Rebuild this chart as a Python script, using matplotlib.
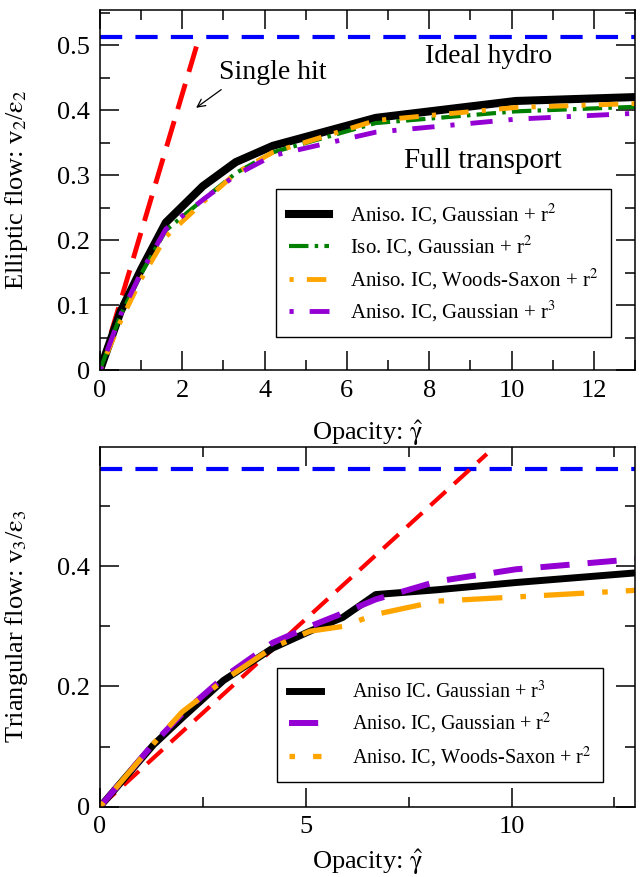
import numpy as np
import matplotlib
matplotlib.use('Agg')
import matplotlib.pyplot as plt
from matplotlib.ticker import MultipleLocator, FuncFormatter

plt.rcParams['font.family'] = ['Liberation Serif', 'DejaVu Serif']
plt.rcParams['mathtext.fontset'] = 'stix'
plt.rcParams['mathtext.default'] = 'rm'
plt.rcParams['lines.scale_dashes'] = False

# ---- top panel: v2/eps2 vs opacity
x2 = [0, 0.5, 1.0, 1.6, 2.5, 3.3, 4.2, 6.7, 10.1, 13]
v2_aniso_gauss_r2 = [0, 0.09, 0.155, 0.227, 0.283, 0.32, 0.345, 0.388, 0.414, 0.42]
v2_iso_gauss_r2 = [0, 0.085, 0.148, 0.215, 0.262, 0.303, 0.335, 0.38, 0.398, 0.405]
v2_aniso_ws_r2 = [0, 0.075, 0.14, 0.205, 0.258, 0.303, 0.335, 0.384, 0.404, 0.41]
v2_aniso_gauss_r3 = [0, 0.085, 0.15, 0.217, 0.262, 0.3, 0.33, 0.366, 0.386, 0.395]
hydro_v2 = 0.512
single_hit_x2 = [0, 2.4]
single_hit_v2 = [0, 0.51]

# ---- bottom panel: v3/eps3 vs opacity
x3 = [0, 1.3, 2.0, 3.0, 4.2, 5.1, 5.9, 6.7, 8.2, 10.1, 13]
v3_aniso_gauss_r3 = [0, 0.103, 0.148, 0.21, 0.264, 0.292, 0.315, 0.353, 0.361, 0.373, 0.389]
v3_aniso_gauss_r2 = [0, 0.105, 0.155, 0.215, 0.273, 0.30, 0.322, 0.345, 0.375, 0.395, 0.412]
v3_aniso_ws_r2 = [0, 0.105, 0.158, 0.21, 0.265, 0.292, 0.30, 0.32, 0.342, 0.349, 0.36]
hydro_v3 = 0.562
single_hit_x3 = [0, 9.4]
single_hit_v3 = [0, 0.587]

fig = plt.figure(figsize=(6.42, 8.77), dpi=100)
ax1 = fig.add_axes([0.1558, 0.5781, 0.8333, 0.4105])
ax2 = fig.add_axes([0.1558, 0.0802, 0.8333, 0.4104])

fmt = FuncFormatter(lambda v, p: '%g' % round(v, 3))
xlab = r'Opacity: $\hat{\gamma}$'


def style_axes(ax):
    ax.tick_params(which='both', direction='in', top=True, right=True,
                   width=1.1, labelsize=19)
    ax.tick_params(which='major', length=14, pad=7)
    ax.tick_params(which='minor', length=7)
    for s in ax.spines.values():
        s.set_linewidth(1.1)
    ax.yaxis.set_major_formatter(fmt)
    ax.xaxis.set_major_formatter(fmt)


# top
ax1.plot([0, 13], [hydro_v2, hydro_v2], color='blue', lw=3, dashes=(16, 9.5))
ax1.plot(single_hit_x2, single_hit_v2, color='red', lw=3.5, dashes=(19, 9))
ax1.plot(x2, v2_aniso_gauss_r2, color='black', lw=5.8, label=r'Aniso. IC, Gaussian + r$^2$')
ax1.plot(x2, v2_iso_gauss_r2, color='green', lw=3, dashes=(14, 4.5, 2.5, 4.5),
         label=r'Iso. IC, Gaussian + r$^2$')
ax1.plot(x2, v2_aniso_ws_r2, color='orange', lw=3.5, dashes=(3, 9.5, 14, 9.5),
         label=r'Aniso. IC, Woods-Saxon + r$^2$')
ax1.plot(x2, v2_aniso_gauss_r3, color='darkviolet', lw=3.5, dashes=(3, 11.5, 16, 11.5),
         label=r'Aniso. IC, Gaussian + r$^3$')
ax1.set_xlim(0, 13)
ax1.set_ylim(0, 0.554)
ax1.xaxis.set_major_locator(MultipleLocator(2))
ax1.xaxis.set_minor_locator(MultipleLocator(1))
ax1.yaxis.set_major_locator(MultipleLocator(0.1))
ax1.yaxis.set_minor_locator(MultipleLocator(0.05))
style_axes(ax1)
ax1.set_xlabel(xlab, fontsize=19, labelpad=12)
ax1.set_ylabel(r'Elliptic flow: v$_2$/$\epsilon_2$', fontsize=19)
ax1.yaxis.set_label_coords(-0.13, 0.5)
ax1.text(9.45, 0.483, 'Ideal hydro', fontsize=20, ha='center', va='center')
ax1.text(4.2, 0.458, 'Single hit', fontsize=20, ha='center', va='center')
ax1.text(9.3, 0.322, 'Full transport', fontsize=21, ha='center', va='center')
ax1.annotate('', xy=(2.28, 0.401), xytext=(3.0, 0.434),
             arrowprops=dict(arrowstyle='->', lw=0.9, color='black', mutation_scale=14))
leg1 = ax1.legend(loc='upper left', bbox_to_anchor=(0.329, 0.503), fontsize=15,
                  frameon=True, fancybox=False, edgecolor='black', framealpha=1,
                  borderaxespad=0, handlelength=1.95, handletextpad=1.0,
                  labelspacing=0.36, borderpad=0.6)
leg1.get_frame().set_linewidth(1.0)

# bottom
ax2.plot([0, 13], [hydro_v3, hydro_v3], color='blue', lw=3, dashes=(16, 9.5))
ax2.plot(single_hit_x3, single_hit_v3, color='red', lw=3, dashes=(15, 8))
ax2.plot(x3, v3_aniso_gauss_r3, color='black', lw=5, label=r'Aniso IC. Gaussian + r$^3$')
ax2.plot(x3, v3_aniso_gauss_r2, color='darkviolet', lw=4.3, dashes=(21, 13),
         label=r'Aniso. IC, Gaussian + r$^2$')
ax2.plot(x3, v3_aniso_ws_r2, color='orange', lw=3.8, dashes=(4, 13, 29, 13),
         label=r'Aniso. IC, Woods-Saxon + r$^2$')
ax2.set_xlim(0, 13)
ax2.set_ylim(0, 0.599)
ax2.xaxis.set_major_locator(MultipleLocator(5))
ax2.xaxis.set_minor_locator(MultipleLocator(2.5))
ax2.yaxis.set_major_locator(MultipleLocator(0.2))
ax2.yaxis.set_minor_locator(MultipleLocator(0.1))
style_axes(ax2)
ax2.set_xlabel(xlab, fontsize=19, labelpad=6)
ax2.set_ylabel(r'Triangular flow: v$_3$/$\epsilon_3$', fontsize=19)
ax2.yaxis.set_label_coords(-0.13, 0.5)
leg2 = ax2.legend(loc='upper left', bbox_to_anchor=(0.331, 0.384), fontsize=14.5,
                  frameon=True, fancybox=False, edgecolor='black', framealpha=1,
                  borderaxespad=0, handlelength=1.6, handletextpad=1.5,
                  labelspacing=0.42, borderpad=0.6)
leg2.get_frame().set_linewidth(1.0)

fig.savefig('out.png', dpi=100)
